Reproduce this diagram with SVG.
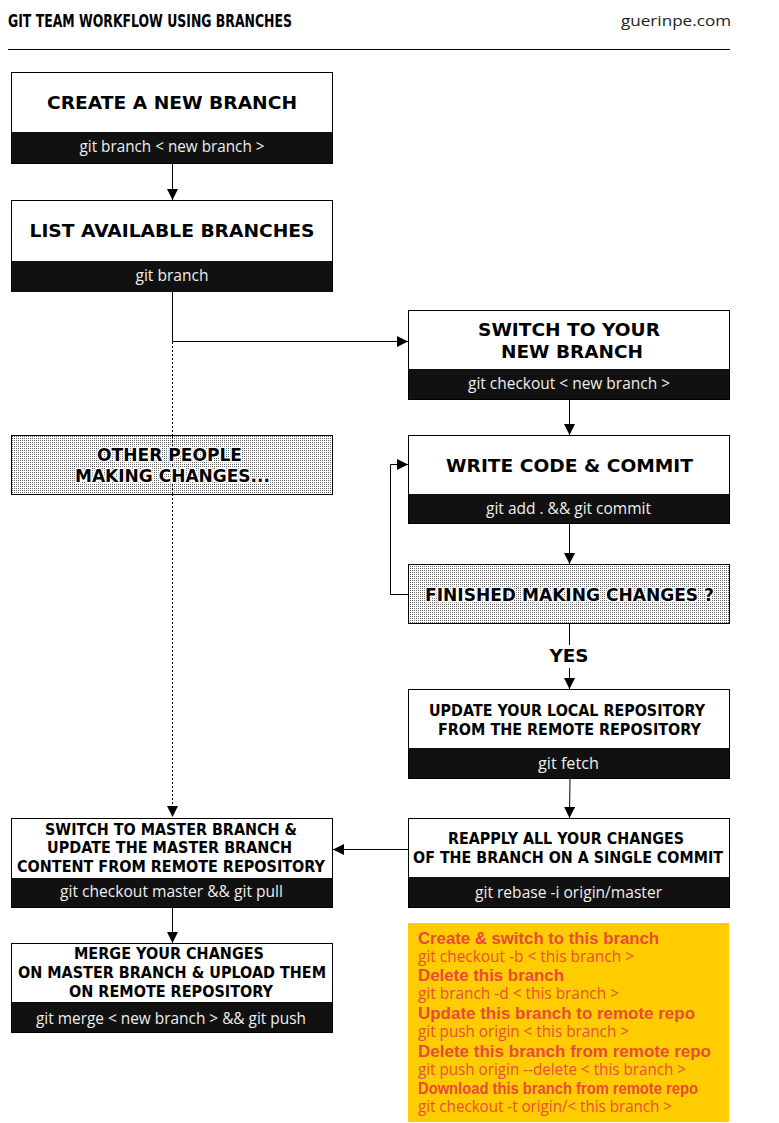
<svg xmlns="http://www.w3.org/2000/svg" width="779" height="1123" viewBox="0 0 779 1123">
<style>
.box{fill:#fff;stroke:#000;stroke-width:1}
.band{fill:#111}
.dot{fill:url(#dots);stroke:#000;stroke-width:1}
.h{font-family:"DejaVu Sans","Liberation Sans",sans-serif;font-weight:bold;fill:#000;text-anchor:middle}
.h1{font-size:18px}
.h2{font-size:15px}
.halo{stroke:#fff;stroke-width:3;paint-order:stroke;stroke-linejoin:round}
.cmd{font-family:"Open Sans","Noto Sans",sans-serif;font-size:15.5px;fill:#eee;text-anchor:middle}
.ln{fill:none;stroke:#000;stroke-width:1}
.nb{font-family:"Liberation Sans","DejaVu Sans",sans-serif;font-weight:bold;font-size:16px;fill:#e84a3c}
.nr{font-family:"Open Sans","Noto Sans",sans-serif;font-size:15.5px;fill:#e8503c}
</style>
<defs>
<pattern id="dots" width="2" height="2" patternUnits="userSpaceOnUse">
<rect width="2" height="2" fill="#fff" fill-opacity="0.85"/>
<rect width="1" height="1" fill="#000" fill-opacity="0.6"/>
</pattern>
<marker id="arr" markerUnits="userSpaceOnUse" markerWidth="11" markerHeight="11" refX="10" refY="5" orient="auto" viewBox="0 0 10 10">
<path d="M0,0 L10,5 L0,10 z" fill="#000"/>
</marker>
</defs>
<rect width="779" height="1123" fill="#fff"/>

<g id="header">
<text x="8" y="27" font-family="'DejaVu Sans','Liberation Sans',sans-serif" font-weight="bold" font-size="18" textLength="284" lengthAdjust="spacingAndGlyphs">GIT TEAM WORKFLOW USING BRANCHES</text>
<text x="731" y="26" text-anchor="end" font-family="'Open Sans','Noto Sans',sans-serif" font-size="15" fill="#222" textLength="110" lengthAdjust="spacingAndGlyphs">guerinpe.com</text>
<line x1="8" y1="49.5" x2="730" y2="49.5" stroke="#000" stroke-width="1"/>
</g>

<g id="connectors">
<line class="ln" x1="172.5" y1="163" x2="172.5" y2="200" marker-end="url(#arr)"/>
<path class="ln" d="M172.5,292 V341.5 H408" marker-end="url(#arr)"/>
<line class="ln" x1="172.5" y1="342" x2="172.5" y2="817" stroke-dasharray="2,2" marker-end="url(#arr)"/>
<line class="ln" x1="569.5" y1="399" x2="569.5" y2="435" marker-end="url(#arr)"/>
<line class="ln" x1="569.5" y1="523" x2="569.5" y2="564" marker-end="url(#arr)"/>
<path class="ln" d="M408,594.5 H390.5 V464.5 H408" marker-end="url(#arr)"/>
<line class="ln" x1="569.5" y1="624" x2="569.5" y2="645"/>
<line class="ln" x1="569.5" y1="668" x2="569.5" y2="689" marker-end="url(#arr)"/>
<line class="ln" x1="570" y1="778" x2="569.5" y2="818" marker-end="url(#arr)"/>
<line class="ln" x1="408" y1="849.5" x2="333" y2="849.5" marker-end="url(#arr)"/>
<line class="ln" x1="172.5" y1="907" x2="172.5" y2="943" marker-end="url(#arr)"/>
<text x="569" y="662" class="h" style="font-size:17px" textLength="39" lengthAdjust="spacingAndGlyphs">YES</text>
</g>

<g id="create-branch">
<rect class="box" x="11.5" y="72.5" width="321" height="91"/>
<rect class="band" x="12" y="132" width="320" height="31"/>
<text class="h h1" x="172" y="109" textLength="250" lengthAdjust="spacingAndGlyphs">CREATE A NEW BRANCH</text>
<text class="cmd" x="172" y="152" textLength="185" lengthAdjust="spacingAndGlyphs">git branch &lt; new branch &gt;</text>
</g>

<g id="list-branches">
<rect class="box" x="11.5" y="200.5" width="321" height="91"/>
<rect class="band" x="12" y="261" width="320" height="31"/>
<text class="h h1" x="172" y="237" textLength="285" lengthAdjust="spacingAndGlyphs">LIST AVAILABLE BRANCHES</text>
<text class="cmd" x="172" y="281" textLength="73" lengthAdjust="spacingAndGlyphs">git branch</text>
</g>

<g id="switch-branch">
<rect class="box" x="408.5" y="310.5" width="321" height="89"/>
<rect class="band" x="409" y="369" width="320" height="30"/>
<text class="h h1" x="569" y="336" textLength="182" lengthAdjust="spacingAndGlyphs">SWITCH TO YOUR</text>
<text class="h h1" x="572" y="358" textLength="142" lengthAdjust="spacingAndGlyphs">NEW BRANCH</text>
<text class="cmd" x="569" y="389" textLength="202" lengthAdjust="spacingAndGlyphs">git checkout &lt; new branch &gt;</text>
</g>

<g id="other-people">
<rect class="dot" x="11.5" y="435.5" width="321" height="59"/>
<line class="ln" x1="172.5" y1="436" x2="172.5" y2="494" stroke-dasharray="2,2"/>
<text class="h h1 halo" x="169.5" y="461" textLength="145" lengthAdjust="spacingAndGlyphs">OTHER PEOPLE</text>
<text class="h h1 halo" x="172.5" y="482" textLength="195" lengthAdjust="spacingAndGlyphs">MAKING CHANGES...</text>
</g>

<g id="write-code">
<rect class="box" x="408.5" y="435.5" width="321" height="88"/>
<rect class="band" x="409" y="494" width="320" height="29"/>
<text class="h h1" x="569.5" y="472" textLength="247" lengthAdjust="spacingAndGlyphs">WRITE CODE &amp; COMMIT</text>
<text class="cmd" x="568.5" y="514" textLength="165" lengthAdjust="spacingAndGlyphs">git add . &amp;&amp; git commit</text>
</g>

<g id="finished">
<rect class="dot" x="408.5" y="564.5" width="321" height="59"/>
<text class="h h1 halo" x="569.5" y="601" textLength="289" lengthAdjust="spacingAndGlyphs">FINISHED MAKING CHANGES ?</text>
</g>

<g id="fetch">
<rect class="box" x="408.5" y="689.5" width="321" height="89"/>
<rect class="band" x="409" y="748" width="320" height="30"/>
<text class="h h2" x="567" y="716" textLength="276" lengthAdjust="spacingAndGlyphs">UPDATE YOUR LOCAL REPOSITORY</text>
<text class="h h2" x="569.5" y="735" textLength="263" lengthAdjust="spacingAndGlyphs">FROM THE REMOTE REPOSITORY</text>
<text class="cmd" x="568.5" y="769" textLength="61" lengthAdjust="spacingAndGlyphs">git fetch</text>
</g>

<g id="rebase">
<rect class="box" x="408.5" y="818.5" width="321" height="89"/>
<rect class="band" x="409" y="877" width="320" height="30"/>
<text class="h h2" x="566" y="844" textLength="236" lengthAdjust="spacingAndGlyphs">REAPPLY ALL YOUR CHANGES</text>
<text class="h h2" x="568" y="863" textLength="310" lengthAdjust="spacingAndGlyphs">OF THE BRANCH ON A SINGLE COMMIT</text>
<text class="cmd" x="568.5" y="898" textLength="187" lengthAdjust="spacingAndGlyphs">git rebase -i origin/master</text>
</g>

<g id="master-pull">
<rect class="box" x="11.5" y="818.5" width="321" height="89"/>
<rect class="band" x="12" y="878" width="320" height="29"/>
<text class="h h2" x="171" y="835" textLength="252" lengthAdjust="spacingAndGlyphs">SWITCH TO MASTER BRANCH &amp;</text>
<text class="h h2" x="169.5" y="853" textLength="245" lengthAdjust="spacingAndGlyphs">UPDATE THE MASTER BRANCH</text>
<text class="h h2" x="171" y="872" textLength="308" lengthAdjust="spacingAndGlyphs">CONTENT FROM REMOTE REPOSITORY</text>
<text class="cmd" x="171.5" y="897" textLength="223" lengthAdjust="spacingAndGlyphs">git checkout master &amp;&amp; git pull</text>
</g>

<g id="merge-push">
<rect class="box" x="11.5" y="943.5" width="321" height="89"/>
<rect class="band" x="12" y="1002" width="320" height="30"/>
<text class="h h2" x="169" y="959" textLength="190" lengthAdjust="spacingAndGlyphs">MERGE YOUR CHANGES</text>
<text class="h h2" x="172" y="978" textLength="308" lengthAdjust="spacingAndGlyphs">ON MASTER BRANCH &amp; UPLOAD THEM</text>
<text class="h h2" x="171" y="997" textLength="204" lengthAdjust="spacingAndGlyphs">ON REMOTE REPOSITORY</text>
<text class="cmd" x="171" y="1024" textLength="270" lengthAdjust="spacingAndGlyphs">git merge &lt; new branch &gt; &amp;&amp; git push</text>
</g>

<g id="note">
<rect x="408" y="923" width="321" height="199" fill="#ffcc00"/>
<text class="nb" x="418" y="944" textLength="241" lengthAdjust="spacingAndGlyphs">Create &amp; switch to this branch</text>
<text class="nr" x="418" y="962" textLength="216" lengthAdjust="spacingAndGlyphs">git checkout -b &lt; this branch &gt;</text>
<text class="nb" x="418" y="981" textLength="146" lengthAdjust="spacingAndGlyphs">Delete this branch</text>
<text class="nr" x="418" y="999" textLength="201" lengthAdjust="spacingAndGlyphs">git branch -d &lt; this branch &gt;</text>
<text class="nb" x="418" y="1019" textLength="277" lengthAdjust="spacingAndGlyphs">Update this branch to remote repo</text>
<text class="nr" x="418" y="1037" textLength="211" lengthAdjust="spacingAndGlyphs">git push origin &lt; this branch &gt;</text>
<text class="nb" x="418" y="1057" textLength="293" lengthAdjust="spacingAndGlyphs">Delete this branch from remote repo</text>
<text class="nr" x="418" y="1075" textLength="268" lengthAdjust="spacingAndGlyphs">git push origin --delete &lt; this branch &gt;</text>
<text class="nb" x="418" y="1094" textLength="280" lengthAdjust="spacingAndGlyphs">Download this branch from remote repo</text>
<text class="nr" x="418" y="1112" textLength="254" lengthAdjust="spacingAndGlyphs">git checkout -t origin/&lt; this branch &gt;</text>
</g>
</svg>
